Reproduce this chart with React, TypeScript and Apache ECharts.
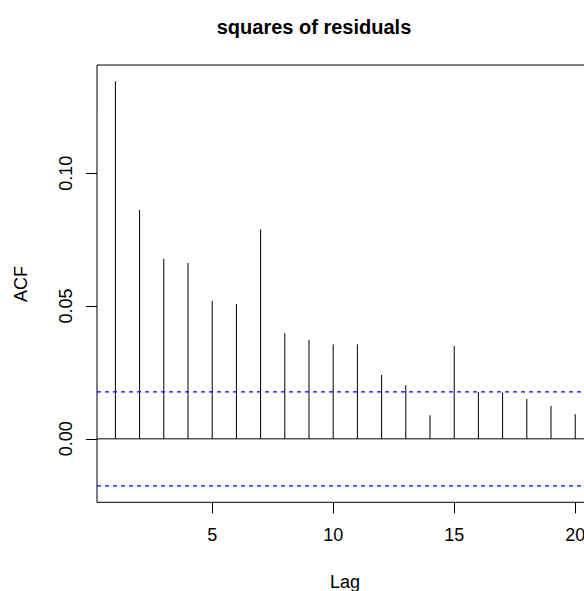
import React, { useEffect, useRef } from "react";
import * as echarts from "echarts";

const lags = [1, 2, 3, 4, 5, 6, 7, 8, 9, 10, 11, 12, 13, 14, 15, 16, 17, 18, 19, 20];
const acfValues = [
  0.1347, 0.0862, 0.0678, 0.0662, 0.052, 0.0508, 0.0789, 0.0398, 0.0373, 0.0356,
  0.0356, 0.0241, 0.0202, 0.0089, 0.035, 0.0176, 0.0175, 0.015, 0.0124, 0.0093,
];
const ciBound = 0.0177;
const xTicks = [5, 10, 15, 20];
const yTicks = [0, 0.05, 0.1];
const xMin = 0.24;
const xMax = 20.76;
const yMin = -0.0239;
const yMax = 0.1408;

const FONT = "'Liberation Sans', Arial, Helvetica, sans-serif";

export default function App() {
  const ref = useRef<HTMLDivElement>(null);
  useEffect(() => {
    document.body.style.margin = "0";
    if (!ref.current) return;
    const chart = echarts.init(ref.current, undefined, { renderer: "svg" });
    const stems = lags.map((l, i) => [l, acfValues[i]]);
    chart.setOption({
      animation: false,
      backgroundColor: "#ffffff",
      grid: {
        left: 97,
        top: 65,
        width: 496.6,
        height: 437.3,
        show: true,
        borderColor: "#000",
        borderWidth: 1,
        backgroundColor: "transparent",
      },
      xAxis: {
        type: "value",
        min: xMin,
        max: xMax,
        position: "bottom",
        axisLine: { show: false, onZero: false },
        splitLine: { show: false },
        axisTick: {
          show: true,
          customValues: xTicks,
          length: 11,
          lineStyle: { color: "#000", width: 1 },
        },
        axisLabel: {
          customValues: xTicks,
          margin: 24,
          fontSize: 18,
          fontFamily: FONT,
          color: "#000",
        },
      },
      yAxis: {
        type: "value",
        min: yMin,
        max: yMax,
        position: "left",
        axisLine: { show: false, onZero: false },
        splitLine: { show: false },
        axisTick: {
          show: true,
          customValues: yTicks,
          length: 11,
          lineStyle: { color: "#000", width: 1 },
        },
        axisLabel: {
          customValues: yTicks,
          rotate: 90,
          margin: 22,
          fontSize: 18,
          fontFamily: FONT,
          color: "#000",
          formatter: (v: number) => v.toFixed(2),
        },
      },
      title: {
        text: "squares of residuals",
        left: 309,
        top: 12,
        textAlign: "center",
        textStyle: { fontSize: 20, fontWeight: "bold", fontFamily: FONT, color: "#000" },
      },
      graphic: [
        {
          type: "text",
          x: 345,
          y: 582,
          style: {
            text: "Lag",
            fontSize: 18,
            fontFamily: FONT,
            fill: "#000",
            align: "center",
            verticalAlign: "middle",
          },
        },
        {
          type: "text",
          x: 21,
          y: 284,
          rotation: Math.PI / 2,
          style: {
            text: "ACF",
            fontSize: 18,
            fontFamily: FONT,
            fill: "#000",
            align: "center",
            verticalAlign: "middle",
          },
        },
      ],
      series: [
        {
          type: "custom",
          data: stems,
          renderItem: (params: any, api: any) => {
            const x = api.value(0);
            const y = api.value(1);
            const p0 = api.coord([x, 0]);
            const p1 = api.coord([x, y]);
            return {
              type: "line",
              shape: { x1: p0[0], y1: p0[1], x2: p1[0], y2: p1[1] },
              style: { stroke: "#000", lineWidth: 1 },
            };
          },
        },
        {
          type: "line",
          data: [
            [xMin, 0],
            [xMax, 0],
          ],
          showSymbol: false,
          symbol: "none",
          lineStyle: { color: "#000", width: 1 },
        },
        {
          type: "line",
          data: [
            [xMin, ciBound],
            [xMax, ciBound],
          ],
          symbol: "none",
          lineStyle: { color: "#0000ff", width: 1.3, type: [4, 4] },
        },
        {
          type: "line",
          data: [
            [xMin, -ciBound],
            [xMax, -ciBound],
          ],
          symbol: "none",
          lineStyle: { color: "#0000ff", width: 1.3, type: [4, 4] },
        },
      ],
    });
    return () => chart.dispose();
  }, []);
  return (
    <div style={{ width: 584, height: 591, overflow: "hidden", position: "relative" }}>
      <div ref={ref} style={{ width: 620, height: 591 }} />
    </div>
  );
}
